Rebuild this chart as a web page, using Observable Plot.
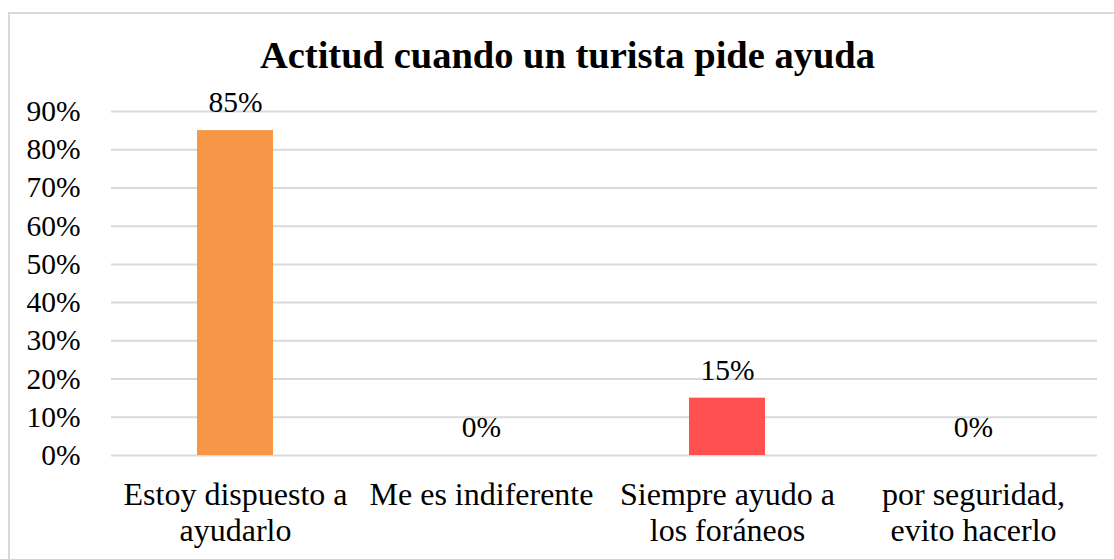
<!DOCTYPE html>
<html>
<head>
<meta charset="utf-8">
<script src="https://cdn.jsdelivr.net/npm/d3@7"></script>
<script src="https://cdn.jsdelivr.net/npm/@observablehq/plot@0.6"></script>
<style>
  html, body { margin: 0; padding: 0; background: #fff; overflow: hidden; }
  #wrap { position: relative; width: 1114px; height: 559px; }
  #border { position: absolute; left: 8px; top: 12px; width: 1120px; height: 560px; border: 2px solid #d9d9d9; box-sizing: border-box; }
  #title { position: absolute; left: 0; width: 1135px; top: 33px; line-height: 44px; text-align: center; font-family: "Liberation Serif", serif; font-weight: bold; font-size: 38.5px; color: #000; }
  #chart { position: absolute; left: 0; top: 0; }
  #chart svg, #chart svg text, #chart svg g { font-family: "Liberation Serif", serif !important; }
</style>
</head>
<body>
<div id="wrap">
  <div id="border"></div>
  <div id="title">Actitud cuando un turista pide ayuda</div>
  <div id="chart"></div>
</div>
<script>
const categories = ["Estoy dispuesto a\nayudarlo", "Me es indiferente", "Siempre ayudo a\nlos foráneos", "por seguridad,\nevito hacerlo"];
const values = [0.85, 0, 0.15, 0];
const colors = ["#F79646", "#F79646", "#FF5050", "#FF5050"];
const yTicks = [0, 0.1, 0.2, 0.3, 0.4, 0.5, 0.6, 0.7, 0.8, 0.9];

const data = categories.map((c, i) => ({ cat: c, value: values[i], color: colors[i] }));
const FONT = "'Liberation Serif', serif";

const chart = Plot.plot({
  width: 1114,
  height: 559,
  marginTop: 111,
  marginLeft: 111,
  marginRight: 17,
  marginBottom: 104,
  style: { fontFamily: FONT, fontSize: "29px", color: "#000", background: "transparent" },
  x: { domain: categories, paddingInner: 0.69, paddingOuter: 0.345, label: null },
  y: { domain: [0, 0.9], label: null },
  marks: [
    Plot.gridY(yTicks, { stroke: "#d9d9d9", strokeOpacity: 1, strokeWidth: 2 }),
    Plot.barY(data, { x: "cat", y: "value", fill: "color" }),
    Plot.axisY(yTicks, { tickSize: 0, tickPadding: 31, tickFormat: d => Math.round(d * 100) + "%", fontSize: 29.5, label: null, fill: "#000" }),
    Plot.axisX({ tickSize: 0, tickPadding: 24, fontSize: 32, lineHeight: 1.12, label: null, fill: "#000" }),
    Plot.text(data, { x: "cat", y: "value", text: d => Math.round(d.value * 100) + "%", dy: -28, fontSize: 29.5, fill: "#000" })
  ]
});
document.getElementById("chart").appendChild(chart);
</script>
</body>
</html>
